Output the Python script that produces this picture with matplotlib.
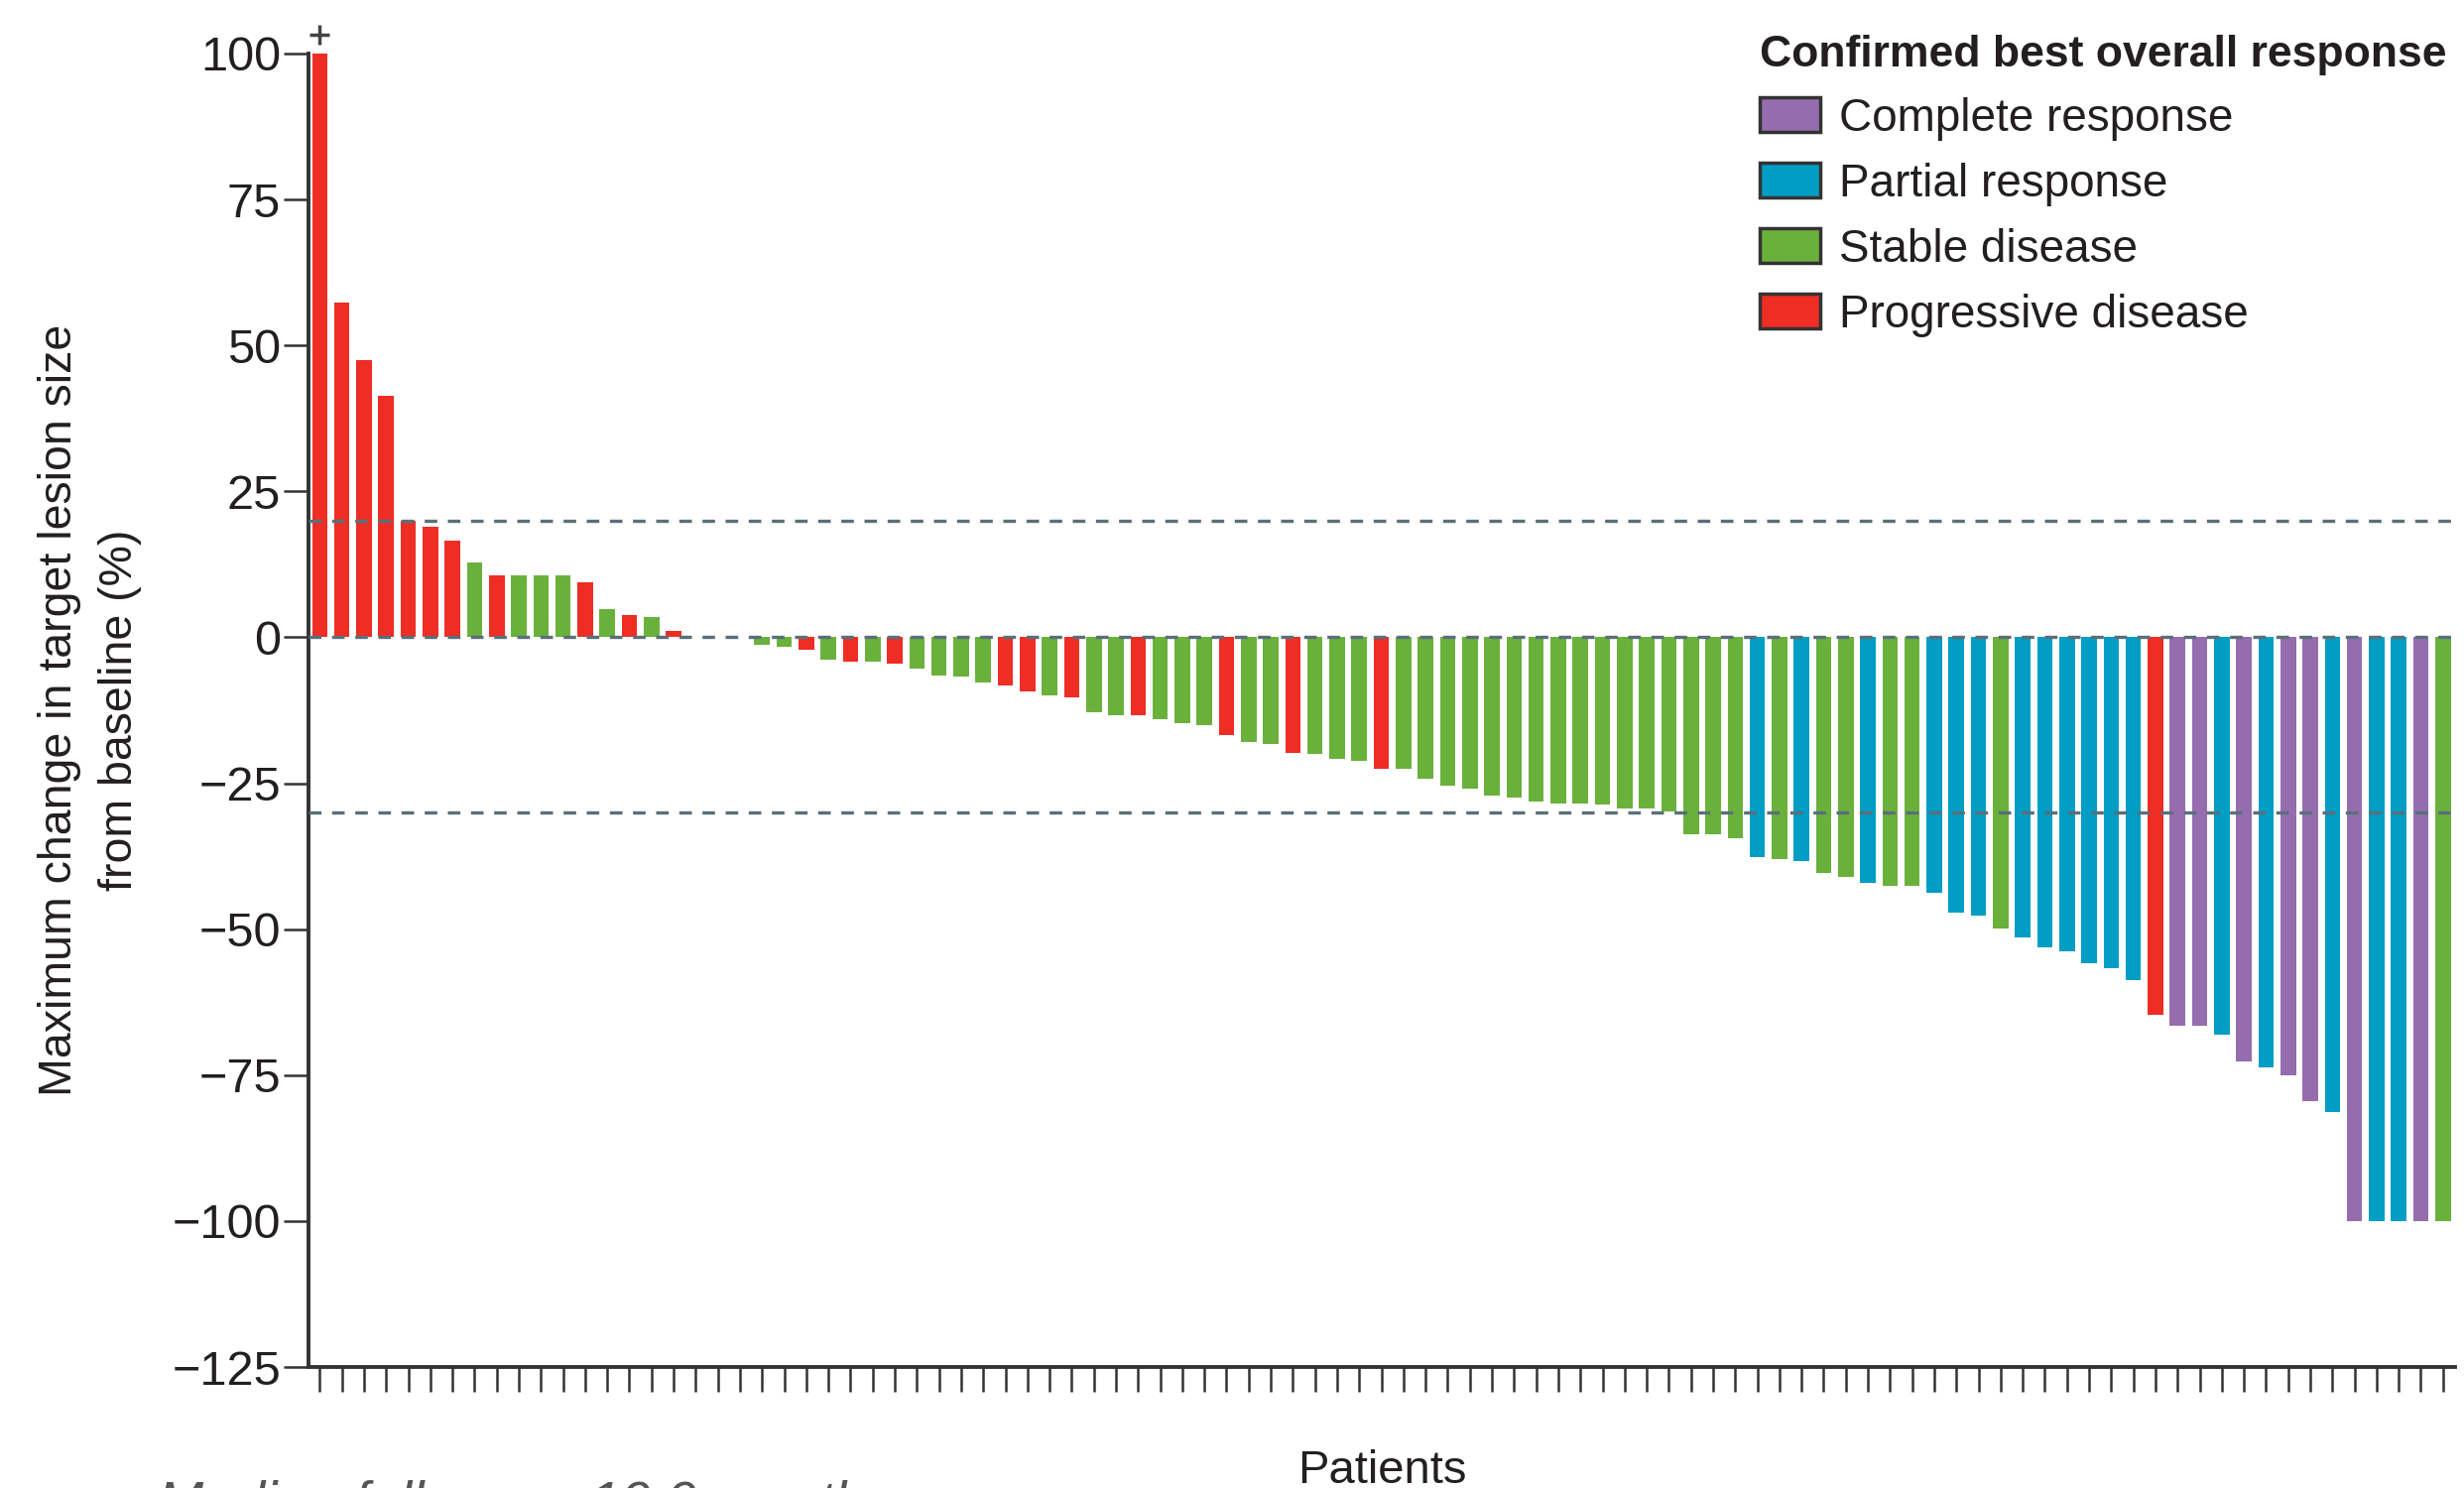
import matplotlib
matplotlib.use("Agg")
import matplotlib.pyplot as plt
from matplotlib.patches import Patch
import numpy as np

# ============================
# Data
# ============================
# best % change in target lesion size, one value per patient (sorted)
change = [
    100, 57.3, 47.5, 41.4, 20.0, 18.9, 16.6, 12.8, 10.6, 10.6,
    10.6, 10.6, 9.4, 4.8, 3.8, 3.4, 1.1, 0, 0, 0,
    -1.2, -1.7, -2.1, -3.8, -4.2, -4.2, -4.5, -5.4, -6.5, -6.7,
    -7.8, -8.2, -9.3, -10.0, -10.3, -12.9, -13.4, -13.4, -14.0, -14.7,
    -15.0, -16.8, -17.9, -18.3, -19.8, -20.0, -20.8, -21.2, -22.5, -22.5,
    -24.3, -25.4, -26.0, -27.1, -27.5, -28.1, -28.5, -28.5, -28.6, -29.4,
    -29.4, -29.8, -33.7, -33.7, -34.5, -37.6, -38.0, -38.3, -40.4, -41.1,
    -42.1, -42.6, -42.6, -43.7, -47.1, -47.7, -49.9, -51.4, -53.1, -53.8,
    -55.9, -56.7, -58.8, -64.6, -66.5, -66.5, -68.0, -72.7, -73.7, -75.0,
    -79.4, -81.4, -100, -100, -100, -100, -100,
]

# confirmed best overall response for each patient
response = [
    "PD", "PD", "PD", "PD", "PD", "PD", "PD", "SD", "PD", "SD",
    "SD", "SD", "PD", "SD", "PD", "SD", "PD", "SD", "SD", "SD",
    "SD", "SD", "PD", "SD", "PD", "SD", "PD", "SD", "SD", "SD",
    "SD", "PD", "PD", "SD", "PD", "SD", "SD", "PD", "SD", "SD",
    "SD", "PD", "SD", "SD", "PD", "SD", "SD", "SD", "PD", "SD",
    "SD", "SD", "SD", "SD", "SD", "SD", "SD", "SD", "SD", "SD",
    "SD", "SD", "SD", "SD", "SD", "PR", "SD", "PR", "SD", "SD",
    "PR", "SD", "SD", "PR", "PR", "PR", "SD", "PR", "PR", "PR",
    "PR", "PR", "PR", "PD", "CR", "CR", "PR", "CR", "PR", "CR",
    "CR", "PR", "CR", "PR", "PR", "CR", "SD",
]

categories = ["CR", "PR", "SD", "PD"]
category_labels = ["Complete response", "Partial response",
                   "Stable disease", "Progressive disease"]
category_colors = ["#956DAE", "#009DC4", "#6AB13C", "#EE2D24"]

threshold_lines = [20, 0, -30]
y_ticks = [100, 75, 50, 25, 0, -25, -50, -75, -100, -125]

# ============================
# Style
# ============================
FONT = ["Liberation Sans", "DejaVu Sans"]
TEXT = "#231f20"
AXIS = "#333333"

color_of = dict(zip(categories, category_colors))
bar_colors = [color_of[r] for r in response]
x = np.arange(len(change))

# ============================
# Plot
# ============================
fig = plt.figure(figsize=(24.84, 15), dpi=100)
ax = fig.add_axes([0.1251, 0.0813, 0.8713, 0.8827])

ax.bar(x, change, width=0.7, color=bar_colors, linewidth=0, zorder=2)

# dashed reference lines (+20 %, 0, -30 %)
for yv in threshold_lines:
    ax.axhline(yv, color="#5a6f7a", linewidth=2.4,
               dashes=(3.8, 3.2), zorder=3)

# marker for the truncated first bar
ax.plot(x[0], change[0] + 3.2, marker="+", markersize=14,
        markeredgewidth=2.5, color="#444444", clip_on=False, zorder=4)

ax.set_xlim(-0.52, len(change) - 0.45)
ax.set_ylim(-125, 100)

ax.set_xticks(x)
ax.set_xticklabels([])
ax.set_yticks(y_ticks)
ax.set_yticklabels([str(v) if v >= 0 else "\u2212" + str(-v) for v in y_ticks],
                   fontfamily=FONT, fontsize=35, color=TEXT)

ax.tick_params(axis="both", direction="out", length=18, width=1.8,
               color=AXIS, pad=2)

for side in ["top", "right"]:
    ax.spines[side].set_visible(False)
for side in ["left", "bottom"]:
    ax.spines[side].set_linewidth(2.8)
    ax.spines[side].set_color(AXIS)

# Labels
ax.set_ylabel("Maximum change in target lesion size\nfrom baseline (%)",
              fontfamily=FONT, fontsize=33.5, color=TEXT, linespacing=1.5)
ax.yaxis.set_label_coords(-0.0775, 0.5)
ax.set_xlabel("Patients", fontfamily=FONT, fontsize=34,
              color=TEXT, labelpad=40)

fig.text(0.064, 0.005, "Median follow-up 10.0 months", style="italic",
         fontfamily=FONT, fontsize=40, color="#555555", va="top")

# Legend
handles = [Patch(facecolor=c, edgecolor=AXIS, linewidth=2.5, label=l)
           for c, l in zip(category_colors, category_labels)]
leg = ax.legend(
    handles=handles,
    title="Confirmed best overall response",
    loc="upper left",
    bbox_to_anchor=(0.7142, 0.977),
    bbox_transform=fig.transFigure,
    frameon=False,
    prop={"family": FONT, "size": 33},
    title_fontproperties={"family": FONT, "size": 32, "weight": "bold"},
    alignment="left",
    handlelength=1.33,
    handleheight=0.81,
    handletextpad=0.41,
    labelspacing=0.48,
    borderpad=0,
    borderaxespad=0,
)
for t in leg.get_texts():
    t.set_color(TEXT)
leg.get_title().set_color(TEXT)

fig.savefig("out.png", dpi=100)
